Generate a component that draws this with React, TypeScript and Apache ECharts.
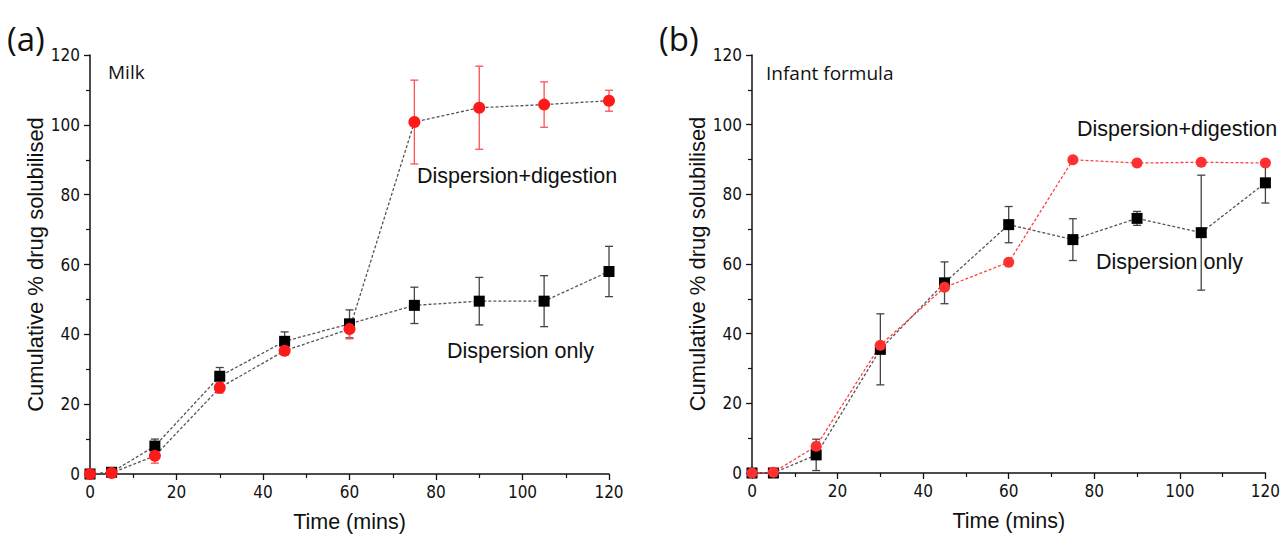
import React, { useEffect, useRef } from "react";
import * as echarts from "echarts";

const TIME = [0, 5, 15, 30, 45, 60, 75, 90, 105, 120];
const X_TICKS = [0, 20, 40, 60, 80, 100, 120];

const milkDispersion = [0, 0.5, 8, 28, 38, 43, 48.3, 49.5, 49.5, 58];
const milkDispersionErr = [0, 0, 2, 2.5, 2.7, 4, 5.2, 6.8, 7.3, 7.2];
const milkDigestion = [0, 0.3, 5.2, 24.7, 35.3, 41.5, 100.8, 104.9, 105.8, 106.9];
const milkDigestionErr = [0, 0, 2.1, 1.5, 1.3, 2.8, 12, 11.9, 6.5, 3];

const infantDispersion = [0, 0, 5.2, 35.5, 54.6, 71.3, 67, 73.1, 69, 83.3];
const infantDispersionErr = [0, 0, 4.5, 10.2, 6, 5.2, 6, 2, 16.5, 5.8];
const infantDigestion = [0, 0.2, 7.7, 36.7, 53.3, 60.5, 89.9, 89, 89.2, 89];

const ARIAL = "'Liberation Sans', Arial, sans-serif";
const NARROW = "'Liberation Sans Narrow', 'Arial Narrow', 'DejaVu Sans Condensed', sans-serif";
const SEGOE = "'Open Sans', 'Noto Sans', sans-serif";

function pairs(ys: number[]) {
  return TIME.map((t, i) => [t, ys[i]]);
}
function errData(ys: number[], es: number[]) {
  return TIME.map((t, i) => [t, ys[i] - es[i], ys[i] + es[i], es[i]]).filter((d) => d[3] > 0);
}

function errSeries(idx: number, ys: number[], es: number[], color: string) {
  return {
    type: "custom",
    xAxisIndex: idx,
    yAxisIndex: idx,
    data: errData(ys, es),
    encode: { x: 0, y: [1, 2] },
    silent: true,
    z: 1,
    renderItem: (params: any, api: any) => {
      const x = api.value(0);
      const top = api.coord([x, api.value(2)]);
      const bot = api.coord([x, api.value(1)]);
      const w = 4;
      const st = { stroke: color, lineWidth: 1.3 };
      return {
        type: "group",
        children: [
          { type: "line", shape: { x1: top[0], y1: top[1], x2: bot[0], y2: bot[1] }, style: st },
          { type: "line", shape: { x1: top[0] - w, y1: top[1], x2: top[0] + w, y2: top[1] }, style: st },
          { type: "line", shape: { x1: bot[0] - w, y1: bot[1], x2: bot[0] + w, y2: bot[1] }, style: st },
        ],
      };
    },
  };
}

function lineSeries(idx: number, ys: number[], symbol: string, size: number, color: string, lineColor: string) {
  return {
    type: "line",
    xAxisIndex: idx,
    yAxisIndex: idx,
    data: pairs(ys),
    symbol,
    symbolSize: size,
    showAllSymbol: true,
    itemStyle: { color },
    lineStyle: { color: lineColor, width: 1.3, type: [3, 2] },
    z: 3,
  };
}

function xAxis(idx: number) {
  return {
    type: "value",
    gridIndex: idx,
    min: 0,
    max: 120,
    interval: 20,
    name: "Time (mins)",
    nameLocation: "middle",
    nameGap: 37,
    nameTextStyle: { fontFamily: ARIAL, fontSize: 21.5, color: "#111" },
    axisLine: { show: true, onZero: false, lineStyle: { color: "#111", width: 1.5 } },
    axisTick: { show: true, inside: false, length: 6, lineStyle: { color: "#111", width: 1.3 } },
    minorTick: { show: true, splitNumber: 2, length: 4, lineStyle: { color: "#111", width: 1.2 } },
    axisLabel: { fontFamily: NARROW, fontSize: 17, color: "#111", margin: 9, customValues: X_TICKS },
    splitLine: { show: false },
  };
}

function yAxis(idx: number) {
  return {
    type: "value",
    gridIndex: idx,
    min: 0,
    max: 120,
    interval: 20,
    name: "Cumulative % drug solubilised",
    nameLocation: "middle",
    nameGap: 44,
    nameTextStyle: { fontFamily: ARIAL, fontSize: 22, color: "#111" },
    axisLine: { show: true, onZero: false, lineStyle: { color: "#111", width: 1.5 } },
    axisTick: { show: true, inside: false, length: 6, lineStyle: { color: "#111", width: 1.3 } },
    minorTick: { show: true, splitNumber: 2, length: 4, lineStyle: { color: "#111", width: 1.2 } },
    axisLabel: { fontFamily: NARROW, fontSize: 17, color: "#111", margin: 10 },
    splitLine: { show: false },
  };
}

function txt(text: string, x: number, y: number, size: number, font: string) {
  return {
    type: "text",
    x,
    y,
    style: { text, fontFamily: font, fontSize: size, fill: "#111", textVerticalAlign: "middle" },
    z: 10,
  };
}

export default function App() {
  const ref = useRef<HTMLDivElement>(null);
  useEffect(() => {
    if (!ref.current) return;
    const chart = echarts.init(ref.current, undefined, { renderer: "svg" });
    const BLACK = "#000000";
    const RED = "#ff1a1a";
    chart.setOption({
      animation: false,
      backgroundColor: "#ffffff",
      grid: [
        { left: 90, top: 55, width: 519, height: 420 },
        { left: 752, top: 55, width: 516, height: 418 },
      ],
      xAxis: [xAxis(0), xAxis(1)],
      yAxis: [yAxis(0), yAxis(1)],
      series: [
        errSeries(0, milkDispersion, milkDispersionErr, "#444444"),
        errSeries(0, milkDigestion, milkDigestionErr, "#ff5050"),
        lineSeries(0, milkDispersion, "rect", 11, BLACK, "#555555"),
        lineSeries(0, milkDigestion, "circle", 12, RED, "#555555"),
        errSeries(1, infantDispersion, infantDispersionErr, "#444444"),
        lineSeries(1, infantDispersion, "rect", 11, BLACK, "#555555"),
        lineSeries(1, infantDigestion, "circle", 11, "#ff3030", "#ff4040"),
      ],
      graphic: [
        txt("(a)", 7, 38, 33, SEGOE),
        txt("(b)", 659, 38, 33, SEGOE),
        txt("Milk", 108, 72, 19, SEGOE),
        txt("Dispersion+digestion", 417, 176, 21.5, ARIAL),
        txt("Dispersion only", 447, 351, 21.5, ARIAL),
        txt("Infant formula", 766, 73, 19, SEGOE),
        txt("Dispersion+digestion", 1077, 129, 21.5, ARIAL),
        txt("Dispersion only", 1096, 262, 21.5, ARIAL),
      ],
    });
    return () => chart.dispose();
  }, []);
  return (
    <div
      ref={ref}
      style={{ position: "absolute", left: 0, top: 0, width: 1283, height: 538 }}
    />
  );
}
